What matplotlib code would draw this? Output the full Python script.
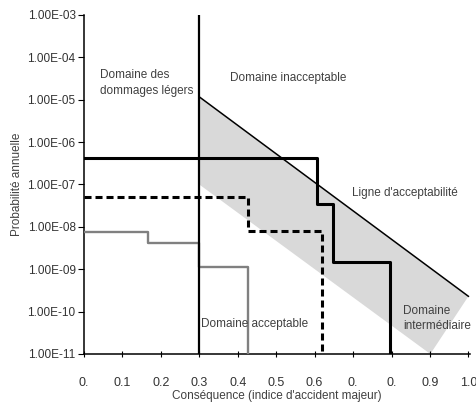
import matplotlib
matplotlib.use("Agg")
import matplotlib.pyplot as plt

plt.rcParams['font.family'] = ['Liberation Sans', 'DejaVu Sans']

# axis ticks
x_ticks = [0, 0.1, 0.2, 0.3, 0.4, 0.5, 0.6, 0.7, 0.8, 0.9, 1.0]
x_ticklabels = ['0.', '0.1', '0.2', '0.3', '0.4', '0.5', '0.6', '0.', '0.', '0.9', '1.0']
y_ticks = [1e-11, 1e-10, 1e-9, 1e-8, 1e-7, 1e-6, 1e-5, 1e-4, 1e-3]
y_ticklabels = ['1.00E-11', '1.00E-10', '1.00E-09', '1.00E-08', '1.00E-07',
                '1.00E-06', '1.00E-05', '1.00E-04', '1.00E-03']

# step curves (x where each level starts, level)
black_x = [0, 0.607, 0.648, 0.797]
black_y = [4.3e-7, 3.4e-8, 1.45e-9, 1e-11]
dashed_x = [0, 0.427, 0.62]
dashed_y = [5.2e-8, 7.8e-9, 1e-11]
gray_x = [0, 0.167, 0.3, 0.427]
gray_y = [7.4e-9, 4.1e-9, 1.1e-9, 1e-11]

# acceptability line and intermediate band
accept_x = [0.3, 1.0]
accept_y = [1.17e-5, 2.3e-10]
band_x = [0.3, 1.0, 0.901, 0.3]
band_y = [1.17e-5, 2.3e-10, 1e-11, 1e-7]

limit_x = 0.3

fig = plt.figure(figsize=(4.77, 4.03), dpi=100)
ax = fig.add_axes([0.176, 0.1216, 0.81, 0.8412])

ax.fill(band_x, band_y, color='#d9d9d9', lw=0, zorder=1)
ax.plot(accept_x, accept_y, color='black', lw=1.1, zorder=3)
ax.plot([limit_x, limit_x], [1e-11, 1e-3], color='black', lw=1.6, zorder=4)

ax.step(gray_x, gray_y, where='post', color='#808080', lw=1.7, zorder=3)
ax.step(dashed_x, dashed_y, where='post', color='black', lw=2.2,
        dashes=(2.3, 1.3), zorder=3)
ax.step(black_x, black_y, where='post', color='black', lw=2.2, zorder=3)

ax.set_yscale('log')
ax.set_xlim(0, 1.005)
ax.set_ylim(1e-11, 1e-3)
ax.set_xticks(x_ticks)
ax.set_xticklabels(x_ticklabels)
ax.set_yticks(y_ticks)
ax.set_yticklabels(y_ticklabels)
ax.minorticks_off()

for s in ['top', 'right']:
    ax.spines[s].set_visible(False)
for s in ['left', 'bottom']:
    ax.spines[s].set_linewidth(1.1)

ax.tick_params(axis='x', direction='inout', length=5, width=0.8, pad=14,
               labelsize=9, labelcolor='#333333')
ax.tick_params(axis='y', direction='out', length=4, width=0.8, pad=2,
               labelsize=8.5, labelcolor='#333333')

ax.set_xlabel("Conséquence (indice d'accident majeur)", fontsize=8.5,
              color='#404040', labelpad=1)
ax.set_ylabel("Probabilité annuelle", fontsize=8.5, color='#404040', labelpad=3)

tc = '#404040'
ax.text(0.042, 10**-4.61, "Domaine des\ndommages légers", fontsize=8.5,
        color=tc, va='center', ha='left', linespacing=1.4)
ax.text(0.380, 10**-4.48, "Domaine inacceptable", fontsize=8.5,
        color=tc, va='center', ha='left')
ax.text(0.698, 10**-7.19, "Ligne d'acceptabilité", fontsize=8.5,
        color=tc, va='center', ha='left')
ax.text(0.305, 10**-10.29, "Domaine acceptable", fontsize=8.5,
        color=tc, va='center', ha='left', zorder=5)
ax.text(0.831, 10**-10.16, "Domaine\nintermédiaire", fontsize=8.5,
        color=tc, va='center', ha='left', linespacing=1.3)

fig.savefig("out.png", dpi=100)
plt.close(fig)
